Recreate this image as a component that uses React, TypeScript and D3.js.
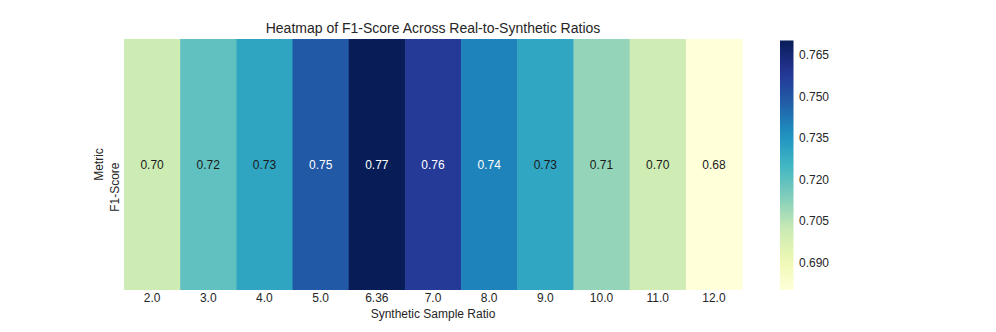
import { useEffect, useRef } from 'react';
import * as d3 from 'd3';

// data
const ratios = ['2.0', '3.0', '4.0', '5.0', '6.36', '7.0', '8.0', '9.0', '10.0', '11.0', '12.0'];
const f1Scores = [0.7007, 0.7196, 0.7304, 0.7490, 0.7702, 0.7574, 0.7394, 0.7300, 0.7106, 0.7005, 0.6801];
const metrics = ['F1-Score'];
const cbarTicks = [0.69, 0.705, 0.72, 0.735, 0.75, 0.765];

// matplotlib YlGnBu anchors
const ylgnbu = ['#ffffd9', '#edf8b1', '#c7e9b4', '#7fcdbb', '#41b6c4', '#1d91c0', '#225ea8', '#253494', '#081d58'];

const W = 996;
const H = 332;
const FONT = 'Liberation Sans, Arial, sans-serif';

const App = () => {
    const ref = useRef<SVGSVGElement>(null);

    useEffect(() => {
        document.body.style.margin = '0';
        const svg = d3.select(ref.current);
        svg.selectAll('*').remove();

        const vmin = d3.min(f1Scores) as number;
        const vmax = d3.max(f1Scores) as number;
        const norm = d3.scaleLinear().domain([vmin, vmax]).range([0, 1]);
        const cmap = d3.scaleLinear<string>()
            .domain(ylgnbu.map((_, i) => i / (ylgnbu.length - 1)))
            .range(ylgnbu)
            .interpolate(d3.interpolateRgb)
            .clamp(true);
        const color = (v: number) => cmap(norm(v));

        const x = d3.scaleBand().domain(ratios).range([124, 742]);
        const y = d3.scaleBand().domain(metrics).range([39, 290]);

        // cells
        const cells = svg.append('g');
        ratios.forEach((r, i) => {
            const v = f1Scores[i];
            cells.append('rect')
                .attr('x', x(r)!)
                .attr('y', y(metrics[0])!)
                .attr('width', x.bandwidth() + 0.5)
                .attr('height', y.bandwidth())
                .attr('fill', color(v));
            const c = d3.rgb(color(v));
            const lum = 0.2126 * c.r / 255 + 0.7152 * c.g / 255 + 0.0722 * c.b / 255;
            cells.append('text')
                .attr('x', x(r)! + x.bandwidth() / 2)
                .attr('y', y(metrics[0])! + y.bandwidth() / 2)
                .attr('dy', '0.35em')
                .attr('text-anchor', 'middle')
                .attr('font-family', FONT)
                .attr('font-size', 12)
                .attr('fill', lum > 0.45 ? '#1a1a1a' : '#ffffff')
                .text(v.toFixed(2));
        });

        // x tick labels
        ratios.forEach((r) => {
            svg.append('text')
                .attr('x', x(r)! + x.bandwidth() / 2)
                .attr('y', 302)
                .attr('text-anchor', 'middle')
                .attr('font-family', FONT)
                .attr('font-size', 12)
                .attr('fill', '#262626')
                .text(r);
        });

        // y tick label (rotated, hangs below the row centre like in matplotlib)
        svg.append('text')
            .attr('transform', `translate(119,${y(metrics[0])! + y.bandwidth() / 2 - 2}) rotate(-90)`)
            .attr('text-anchor', 'end')
            .attr('font-family', FONT)
            .attr('font-size', 12)
            .attr('fill', '#262626')
            .text(metrics[0]);

        // axis labels
        svg.append('text')
            .attr('x', (124 + 742) / 2)
            .attr('y', 318)
            .attr('text-anchor', 'middle')
            .attr('font-family', FONT)
            .attr('font-size', 12)
            .attr('fill', '#262626')
            .text('Synthetic Sample Ratio');
        svg.append('text')
            .attr('transform', `translate(103,${(39 + 290) / 2}) rotate(-90)`)
            .attr('text-anchor', 'middle')
            .attr('font-family', FONT)
            .attr('font-size', 12)
            .attr('fill', '#262626')
            .text('Metric');

        // title
        svg.append('text')
            .attr('x', (124 + 742) / 2)
            .attr('y', 33)
            .attr('text-anchor', 'middle')
            .attr('font-family', FONT)
            .attr('font-size', 14)
            .attr('fill', '#262626')
            .text('Heatmap of F1-Score Across Real-to-Synthetic Ratios');

        // colorbar
        const cy = d3.scaleLinear().domain([vmin, vmax]).range([290, 40.5]);
        const grad = svg.append('defs').append('linearGradient')
            .attr('id', 'cbar')
            .attr('x1', 0).attr('y1', 1).attr('x2', 0).attr('y2', 0);
        d3.range(0, 1.0001, 0.05).forEach((t) => {
            grad.append('stop')
                .attr('offset', t)
                .attr('stop-color', cmap(t));
        });
        svg.append('rect')
            .attr('x', 780)
            .attr('y', cy(vmax))
            .attr('width', 13.5)
            .attr('height', cy(vmin) - cy(vmax))
            .attr('fill', 'url(#cbar)');
        cbarTicks.forEach((t) => {
            svg.append('text')
                .attr('x', 799)
                .attr('y', cy(t))
                .attr('dy', '0.35em')
                .attr('font-family', FONT)
                .attr('font-size', 12)
                .attr('fill', '#262626')
                .text(t.toFixed(3));
        });
    }, []);

    return <svg ref={ref} width={W} height={H} style={{ display: 'block', background: '#fff' }} />;
};

export default App;
